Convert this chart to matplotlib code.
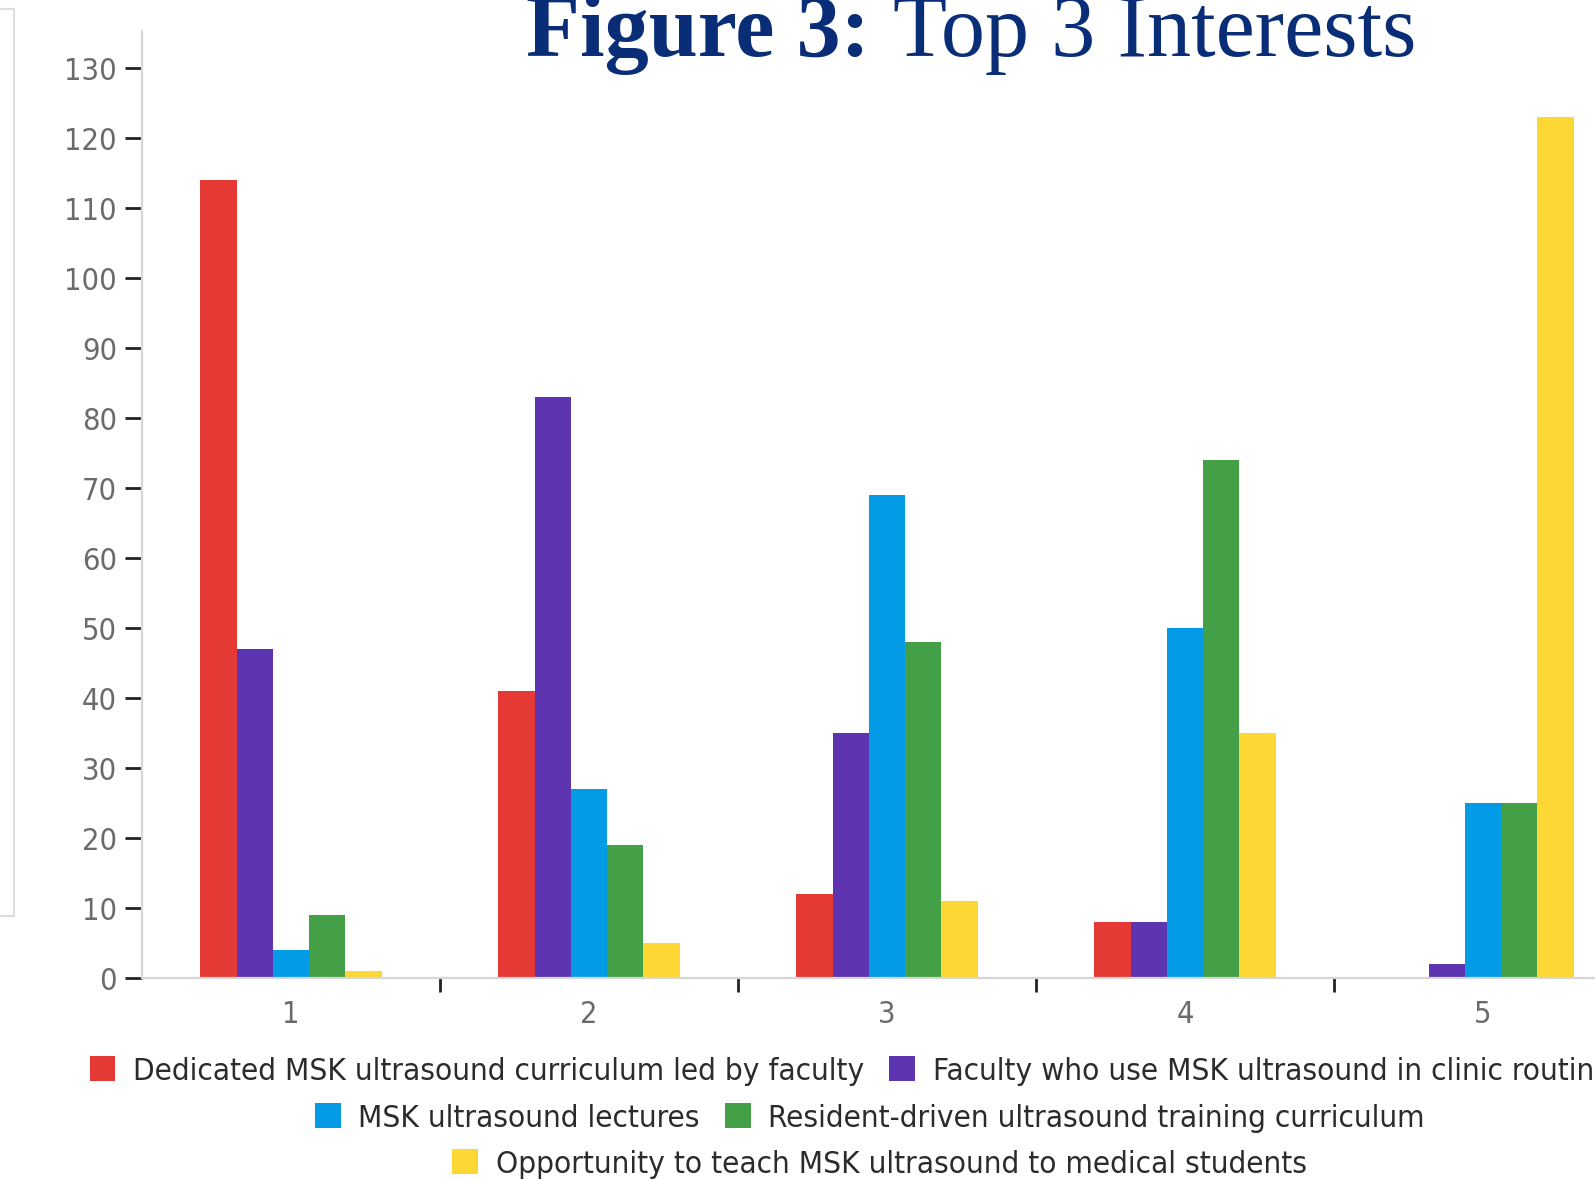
import matplotlib
matplotlib.use("Agg")
import matplotlib.pyplot as plt
from matplotlib import font_manager
from matplotlib.font_manager import FontProperties
from matplotlib.patches import Rectangle

# ---- data ----
categories = ["1", "2", "3", "4", "5"]
series_names = [
    "Dedicated MSK ultrasound curriculum led by faculty",
    "Faculty who use MSK ultrasound in clinic routine",
    "MSK ultrasound lectures",
    "Resident-driven ultrasound training curriculum",
    "Opportunity to teach MSK ultrasound to medical students",
]
dedicated = [114, 41, 12, 8, 0]
faculty_clinic = [47, 83, 35, 8, 2]
lectures = [4, 27, 69, 50, 25]
resident_driven = [9, 19, 48, 74, 25]
teach_students = [1, 5, 11, 35, 123]
series_values = [dedicated, faculty_clinic, lectures, resident_driven, teach_students]
colors = ["#E53935", "#5E35B1", "#039BE5", "#43A047", "#FDD835"]
y_ticks = list(range(0, 131, 10))

# ---- fonts: look for a condensed sans ----
files = [f.fname for f in font_manager.fontManager.ttflist]
cond_file = None
scale = 1.0
for key, sc in [("LiberationSansNarrow-Regular", 1.0), ("DejaVuSansCondensed.ttf", 0.9),
                ("RobotoCondensed-Regular", 1.0), ("OpenSansCondensed", 1.0)]:
    hits = [p for p in files if key in p]
    if hits:
        cond_file = hits[0]
        scale = sc
        break

def fp(size_narrow):
    if cond_file:
        return FontProperties(fname=cond_file, size=size_narrow * scale)
    # fallback: regular DejaVu Sans shrunk to keep the widths
    return FontProperties(family="DejaVu Sans", size=size_narrow * 0.77)

W, H = 1595, 1180
fig = plt.figure(figsize=(W / 100, H / 100), dpi=100)

def fx(px):
    return px / W

def fy(py):
    return 1 - py / H

ax = fig.add_axes([fx(142), fy(978), fx(1632) - fx(142), fy(31) - fy(978)])

n = len(series_values)
bw = 0.1215
xs = list(range(1, len(categories) + 1))
for i, (vals, col, name) in enumerate(zip(series_values, colors, series_names)):
    off = (i - (n - 1) / 2) * bw
    ax.bar([x + off for x in xs], vals, width=bw, color=col, linewidth=0, label=name)

ax.set_xlim(0.5, 5.5)
ax.set_ylim(0, 135.3)
ax.set_yticks(y_ticks)
ax.set_yticklabels([str(v) for v in y_ticks])

ax.set_xticks([1.5, 2.5, 3.5, 4.5])
ax.set_xticklabels([])
ax.set_xticks(xs, minor=True)
ax.set_xticklabels(categories, minor=True)

for s in ["top", "right"]:
    ax.spines[s].set_visible(False)
for s in ["left", "bottom"]:
    ax.spines[s].set_color("#d6d6d6")
    ax.spines[s].set_linewidth(1.6)

tick_col = "#6b6b6b"
ax.tick_params(axis="y", which="major", length=12, width=2, color="#222222",
               labelcolor=tick_col, pad=6)
ax.tick_params(axis="x", which="major", length=10, width=2, color="#222222")
ax.tick_params(axis="x", which="minor", length=0, labelcolor=tick_col, pad=16)
tick_fp = fp(24.5)
for lab in ax.get_yticklabels() + ax.get_xticklabels(minor=True):
    lab.set_fontproperties(tick_fp)

# ---- legend rows ----
handles, labels = ax.get_legend_handles_labels()
rows = [([0, 1], 89.5, 1071), ([2, 3], 315, 1118), ([4], 452, 1164)]
leg_fp = fp(25.1)
fs_px = leg_fp.get_size_in_points() * 100 / 72
hl = 25.5 / fs_px
for idx, xl, yc in rows:
    lg = fig.legend([handles[k] for k in idx], [labels[k] for k in idx],
                    loc="center left", bbox_to_anchor=(fx(xl), fy(yc)),
                    ncol=len(idx), frameon=False, prop=leg_fp,
                    handlelength=hl, handleheight=hl, handletextpad=18 / fs_px,
                    columnspacing=25 / fs_px, borderpad=0, borderaxespad=0)
    for t in lg.get_texts():
        t.set_color("#2b2b2b")

# ---- decorative panel border at left ----
fig.patches.append(Rectangle((fx(-20), fy(916)), fx(34), fy(9) - fy(916),
                             transform=fig.transFigure, fill=False,
                             edgecolor="#dcdcdc", linewidth=1.5))

# ---- title ----
title_col = "#0A2D78"
serif = ["Liberation Serif", "DejaVu Serif"]
fig.text(fx(870), fy(56), "Figure 3:", ha="right", va="baseline",
         fontsize=63.5, fontweight="bold", family=serif, color=title_col)
fig.text(fx(893), fy(56), "Top 3 Interests", ha="left", va="baseline",
         fontsize=63.5, family=serif, color=title_col)

fig.savefig("out.png", dpi=100)
